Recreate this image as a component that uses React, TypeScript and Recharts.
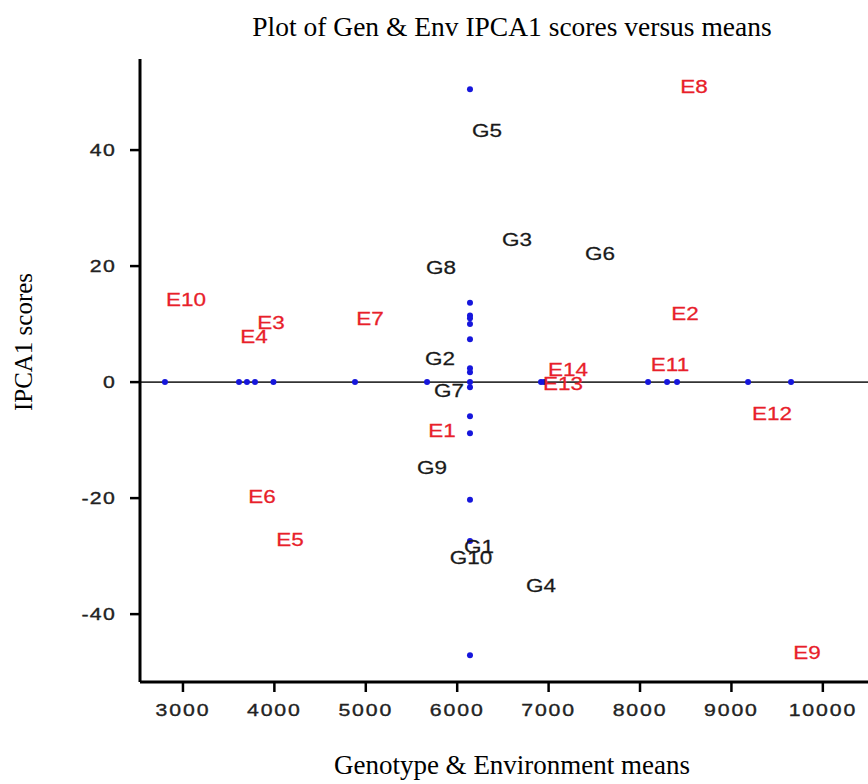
import React from 'react';
import { ScatterChart, Scatter, XAxis, YAxis, ReferenceLine } from 'recharts';

// Genotype labels: mean yield (x) and IPCA1 score (y)
const genotypes = ['G1', 'G2', 'G3', 'G4', 'G5', 'G6', 'G7', 'G8', 'G9', 'G10'];
const genoMeans = [6238, 5812, 6654, 6917, 6326, 7562, 5910, 5823, 5724, 6151];
const genoIPCA1 = [-28.4, 4.1, 24.5, -35.0, 43.3, 22.1, -1.4, 19.8, -14.7, -30.2];

// Environment labels: mean yield (x) and IPCA1 score (y)
const environments = ['E1', 'E2', 'E3', 'E4', 'E5', 'E6', 'E7', 'E8', 'E9', 'E10', 'E11', 'E12', 'E13', 'E14'];
const envMeans = [5833, 8492, 3963, 3777, 4171, 3864, 5046, 8590, 9827, 3033, 8328, 9444, 7157, 7212];
const envIPCA1 = [-8.3, 11.9, 10.2, 7.9, -27.1, -19.8, 11.0, 51.0, -46.6, 14.3, 3.1, -5.5, -0.2, 2.1];

// Blue marker dots: means on the zero line, IPCA1 scores on the grand-mean line
const grandMean = 6140;
const meanDots = [2803, 3613, 3700, 3788, 3990, 4882, 5670, 6140, 6917, 6950, 8088, 8296, 8405, 9182, 9652];
const ipcaDots = [50.5, 13.7, 11.5, 11.0, 10.0, 7.4, 2.4, 1.7, -0.9, -5.9, -8.8, -20.3, -27.4, -47.1];

const xTicks = [3000, 4000, 5000, 6000, 7000, 8000, 9000, 10000];
const yTicks = [-40, -20, 0, 20, 40];
const xDomain = [2530, 10494];
const yDomain = [-51.7, 55.7];

const genoData = genotypes.map((name, i) => ({ name, x: genoMeans[i], y: genoIPCA1[i] }));
const envData = environments.map((name, i) => ({ name, x: envMeans[i], y: envIPCA1[i] }));
const meanDotData = meanDots.map((x) => ({ x, y: 0 }));
const ipcaDotData = ipcaDots.map((y) => ({ x: grandMean, y }));

const SANS = 'Arial, "Liberation Sans", Helvetica, sans-serif';
const SERIF = '"Times New Roman", "Liberation Serif", Times, serif';

const makeLabel = (color: string) => (props: any) => {
  const { cx, cy, payload } = props;
  if (cx == null || cy == null) return <g />;
  return (
    <text
      transform={`translate(${cx},${cy}) scale(1.25,1)`}
      textAnchor="middle"
      dy="0.36em"
      fontSize={18}
      fontFamily={SANS}
      fill={color}
      stroke={color}
      strokeWidth={0.25}
    >
      {payload.name}
    </text>
  );
};

const dot = (props: any) => {
  const { cx, cy } = props;
  if (cx == null || cy == null) return <g />;
  return <circle cx={cx} cy={cy} r={3} fill="#1616dc" />;
};

const XTick = (props: any) => {
  const { x, y, payload } = props;
  return (
    <text
      transform={`translate(${x},${y}) scale(1.25,1)`}
      textAnchor="middle"
      dy="0.71em"
      fontSize={17}
      fontFamily={SANS}
      fill="#222"
      stroke="#222"
      strokeWidth={0.35}
      letterSpacing={1.5}
    >
      {payload.value}
    </text>
  );
};

const YTick = (props: any) => {
  const { x, y, payload } = props;
  return (
    <text
      transform={`translate(${x},${y}) scale(1.25,1)`}
      textAnchor="end"
      dy="0.36em"
      fontSize={17}
      fontFamily={SANS}
      fill="#222"
      stroke="#222"
      strokeWidth={0.35}
      letterSpacing={1}
    >
      {payload.value}
    </text>
  );
};

export default function App() {
  return (
    <div style={{ position: 'relative', width: 868, height: 784, background: '#fff' }}>
      <style>{'body{margin:0;overflow:hidden;background:#fff}'}</style>
      <ScatterChart
        width={868}
        height={784}
        margin={{ top: 59, right: 0, left: 80, bottom: 52 }}
      >
        <XAxis
          xAxisId="top"
          orientation="top"
          type="number"
          dataKey="x"
          domain={xDomain}
          allowDataOverflow
          height={0}
          tick={false}
          tickLine={false}
          axisLine={{ stroke: '#000', strokeWidth: 3 }}
        />
        <XAxis
          type="number"
          dataKey="x"
          domain={xDomain}
          ticks={xTicks}
          allowDataOverflow
          height={50}
          tickSize={10}
          tickMargin={12}
          tick={XTick}
          tickLine={{ stroke: '#000', strokeWidth: 2.5 }}
          axisLine={{ stroke: '#000', strokeWidth: 3 }}
        />
        <YAxis
          type="number"
          dataKey="y"
          domain={yDomain}
          ticks={yTicks}
          allowDataOverflow
          width={60}
          tickSize={10}
          tickMargin={14}
          tick={YTick}
          tickLine={{ stroke: '#000', strokeWidth: 2.5 }}
          axisLine={{ stroke: '#000', strokeWidth: 3 }}
        />
        <ReferenceLine y={0} stroke="#333" strokeWidth={1.6} />
        <Scatter data={meanDotData} shape={dot} isAnimationActive={false} />
        <Scatter data={ipcaDotData} shape={dot} isAnimationActive={false} />
        <Scatter data={genoData} shape={makeLabel('#1a1a1a')} isAnimationActive={false} />
        <Scatter data={envData} shape={makeLabel('#e8202a')} isAnimationActive={false} />
      </ScatterChart>
      <svg
        width={868}
        height={784}
        style={{ position: 'absolute', left: 0, top: 0, pointerEvents: 'none', overflow: 'visible' }}
      >
        <text x={512} y={36} textAnchor="middle" fontSize={27.5} fontFamily={SERIF} fill="#000">
          Plot of Gen &amp; Env IPCA1 scores versus means
        </text>
        <text x={512} y={774} textAnchor="middle" fontSize={27} fontFamily={SERIF} fill="#000">
          Genotype &amp; Environment means
        </text>
        <text
          transform="translate(32,342) rotate(-90)"
          textAnchor="middle"
          fontSize={25}
          fontFamily={SERIF}
          fill="#000"
        >
          IPCA1 scores
        </text>
      </svg>
    </div>
  );
}
